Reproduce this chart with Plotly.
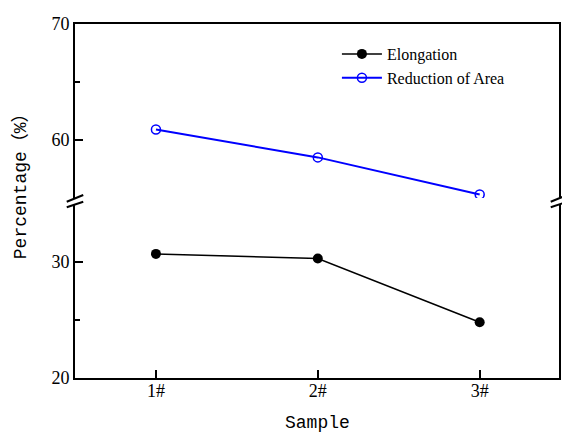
import plotly.graph_objects as go

# Sample labels and measured tensile properties (%)
samples = ["1#", "2#", "3#"]
sample_pos = [1, 2, 3]
elongation = [30.7, 30.3, 24.8]
reduction_of_area = [60.9, 58.5, 55.3]

W, H = 562, 434
ML, MR, MT, MB = 75, 1, 24, 56
PW, PH = W - ML - MR, H - MT - MB


def px_x(px):
    return (px - ML) / PW


def px_y(py):
    return (H - MB - py) / PH


serif = "Liberation Serif, Times New Roman, serif"
mono = "Liberation Mono, Noto Sans CJK SC, monospace"

fig = go.Figure()

fig.add_trace(go.Scatter(
    x=sample_pos, y=elongation, name="Elongation",
    mode="lines+markers", xaxis="x", yaxis="y",
    line=dict(color="black", width=1.5),
    marker=dict(symbol="circle", size=10, color="black"),
    cliponaxis=True,
))
fig.add_trace(go.Scatter(
    x=sample_pos, y=reduction_of_area, name="Reduction of Area",
    mode="lines+markers", xaxis="x2", yaxis="y2",
    line=dict(color="#0000ff", width=2),
    marker=dict(symbol="circle-open", size=9, color="#0000ff",
                line=dict(width=1.5, color="#0000ff")),
    cliponaxis=True,
))

lower_top = px_y(204)
upper_bottom = px_y(198)

axis_common = dict(
    showline=True, linewidth=2, linecolor="black",
    showgrid=False, zeroline=False,
    tickfont=dict(family=serif, size=18, color="black"),
)

fig.update_layout(
    width=W, height=H,
    margin=dict(l=ML, r=MR, t=MT, b=MB),
    paper_bgcolor="white", plot_bgcolor="white",
    showlegend=True,
    legend=dict(
        x=px_x(338), y=px_y(37), xanchor="left", yanchor="top",
        bgcolor="rgba(0,0,0,0)", borderwidth=0,
        font=dict(family=serif, size=16, color="black"),
        tracegroupgap=0, itemwidth=40,
    ),
    xaxis=dict(
        **axis_common, domain=[0, 1], range=[0.5, 3.49], anchor="y",
        tickmode="array", tickvals=sample_pos, ticktext=samples,
        ticks="inside", ticklen=8, tickwidth=2, tickcolor="black",
        ticklabelstandoff=-5,
    ),
    xaxis2=dict(
        showline=True, linewidth=2, linecolor="black",
        showgrid=False, zeroline=False,
        domain=[0, 1], range=[0.5, 3.49], anchor="y2", side="top",
        matches="x", showticklabels=False, ticks="",
    ),
    yaxis=dict(
        **axis_common, domain=[0, lower_top], range=[20, 35], anchor="x",
        mirror=True, tickmode="array", tickvals=[20, 30],
        ticks="inside", ticklen=8, tickwidth=2, tickcolor="black",
        minor=dict(tickvals=[25], ticks="inside", ticklen=5,
                   tickwidth=2, tickcolor="black"),
    ),
    yaxis2=dict(
        **axis_common, domain=[upper_bottom, 1], range=[55, 70], anchor="x2",
        mirror=True, tickmode="array", tickvals=[60, 70],
        ticks="inside", ticklen=8, tickwidth=2, tickcolor="black",
        minor=dict(tickvals=[65], ticks="inside", ticklen=5,
                   tickwidth=2, tickcolor="black"),
    ),
)

# Axis titles
fig.add_annotation(
    text="Percentage（%）", xref="paper", yref="paper",
    x=px_x(20), y=px_y(182), textangle=-90, showarrow=False,
    xanchor="center", yanchor="middle",
    font=dict(family=mono, size=18, color="black"),
)
fig.add_annotation(
    text="Sample", xref="paper", yref="paper",
    x=px_x(318), y=px_y(423), showarrow=False,
    xanchor="center", yanchor="middle",
    font=dict(family=mono, size=18, color="black"),
)

# Axis break marks on the left and right spines
for x0, x1 in [(66.7, 83.3), (552.7, 569.3)]:
    for y0, y1 in [(201.7, 195.0), (207.3, 201.7)]:
        fig.add_shape(
            type="line", xref="paper", yref="paper",
            x0=px_x(x0), y0=px_y(y0), x1=px_x(x1), y1=px_y(y1),
            line=dict(color="black", width=2),
        )

fig.write_html("out.html")
